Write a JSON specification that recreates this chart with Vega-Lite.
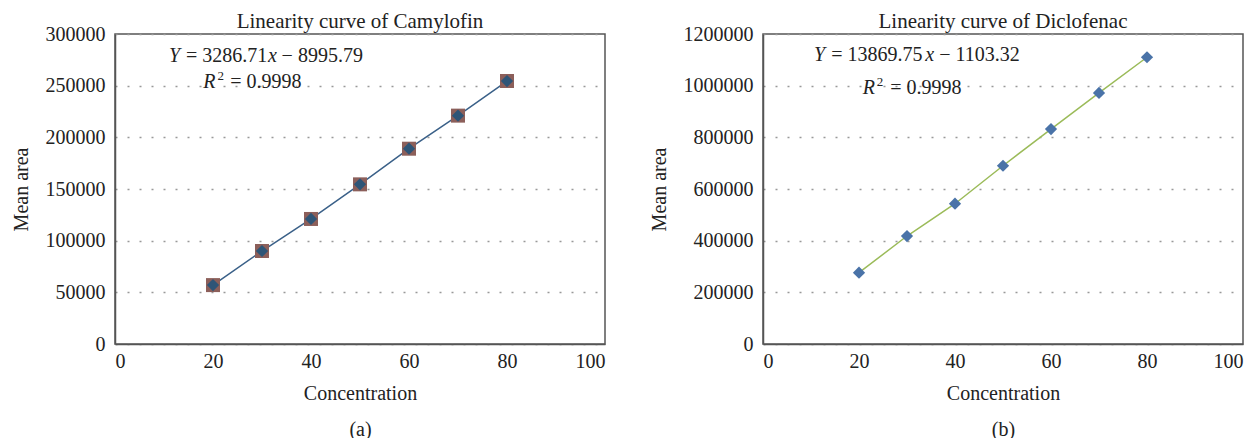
{
  "$schema": "https://vega.github.io/schema/vega-lite/v6.json",
  "background": "white",
  "padding": {"left": 10, "right": 5, "top": 10, "bottom": 0},
  "spacing": 42,
  "config": {
    "font": "Liberation Serif",
    "view": {"stroke": "#555", "strokeWidth": 1.5},
    "axis": {
      "labelFont": "Liberation Serif",
      "titleFont": "Liberation Serif",
      "labelFontSize": 20,
      "titleFontSize": 20,
      "titleFontWeight": "normal",
      "labelColor": "#222",
      "titleColor": "#222",
      "domainColor": "#555",
      "domainWidth": 1.5,
      "ticks": false,
      "gridColor": "#999",
      "gridDash": [2, 10],
      "gridWidth": 1.5
    },
    "title": {"font": "Liberation Serif", "fontSize": 21, "fontWeight": "normal", "color": "#222", "offset": -8},
    "text": {"font": "Liberation Serif", "fontSize": 20, "color": "#222", "align": "left", "baseline": "middle"}
  },
  "datasets": {
    "cam": [
      {"conc": 20, "area": 57000},
      {"conc": 30, "area": 90000},
      {"conc": 40, "area": 121000},
      {"conc": 50, "area": 154500},
      {"conc": 60, "area": 189000},
      {"conc": 70, "area": 221000},
      {"conc": 80, "area": 254500}
    ],
    "dic": [
      {"conc": 20, "area": 276000},
      {"conc": 30, "area": 418000},
      {"conc": 40, "area": 543000},
      {"conc": 50, "area": 690000},
      {"conc": 60, "area": 832000},
      {"conc": 70, "area": 972000},
      {"conc": 80, "area": 1110000}
    ],
    "camText": [
      {"conc": 11.0, "area": 279000, "label": "Y", "kind": "i"},
      {"conc": 14.5, "area": 279000, "label": "= 3286.71", "kind": "n"},
      {"conc": 31.2, "area": 279000, "label": "x", "kind": "i"},
      {"conc": 34.0, "area": 279000, "label": "− 8995.79", "kind": "n"},
      {"conc": 18.0, "area": 253500, "label": "R", "kind": "i"},
      {"conc": 20.9, "area": 259500, "label": "2", "kind": "s"},
      {"conc": 23.5, "area": 253500, "label": "= 0.9998", "kind": "n"}
    ],
    "dicText": [
      {"conc": 10.6, "area": 1118000, "label": "Y", "kind": "i"},
      {"conc": 14.2, "area": 1118000, "label": "= 13869.75", "kind": "n"},
      {"conc": 33.8, "area": 1118000, "label": "x", "kind": "i"},
      {"conc": 36.7, "area": 1118000, "label": "− 1103.32", "kind": "n"},
      {"conc": 20.8, "area": 991000, "label": "R", "kind": "i"},
      {"conc": 23.7, "area": 1016000, "label": "2", "kind": "s"},
      {"conc": 26.5, "area": 991000, "label": "= 0.9998", "kind": "n"}
    ]
  },
  "hconcat": [
    {
      "width": 490,
      "height": 310,
      "title": "Linearity curve of Camylofin",
      "layer": [
        {
          "data": {"name": "cam"},
          "mark": {"type": "line", "color": "#3a6088", "strokeWidth": 1.5},
          "encoding": {
            "x": {"field": "conc", "type": "quantitative", "scale": {"domain": [0, 100]},
                  "axis": {"values": [0, 20, 40, 60, 80, 100], "grid": false, "labelPadding": 7,
                           "title": ["Concentration", "(a)"], "titleLineHeight": 36, "titlePadding": 12}},
            "y": {"field": "area", "type": "quantitative", "scale": {"domain": [0, 300000]},
                  "axis": {"values": [0, 50000, 100000, 150000, 200000, 250000, 300000], "format": "d",
                           "labelPadding": 10, "title": "Mean area", "titlePadding": 14}}
          }
        },
        {
          "data": {"name": "cam"},
          "mark": {"type": "point", "shape": "square", "filled": true, "color": "#8c5f5a", "size": 196, "opacity": 1},
          "encoding": {
            "x": {"field": "conc", "type": "quantitative"},
            "y": {"field": "area", "type": "quantitative"}
          }
        },
        {
          "data": {"name": "cam"},
          "mark": {"type": "point", "shape": "diamond", "filled": true, "color": "#2e5577", "size": 150, "opacity": 1},
          "encoding": {
            "x": {"field": "conc", "type": "quantitative"},
            "y": {"field": "area", "type": "quantitative"}
          }
        },
        {
          "data": {"name": "camText"},
          "transform": [{"filter": "datum.kind == 'n'"}],
          "mark": {"type": "text"},
          "encoding": {
            "x": {"field": "conc", "type": "quantitative"},
            "y": {"field": "area", "type": "quantitative"},
            "text": {"field": "label"}
          }
        },
        {
          "data": {"name": "camText"},
          "transform": [{"filter": "datum.kind == 'i'"}],
          "mark": {"type": "text", "fontStyle": "italic"},
          "encoding": {
            "x": {"field": "conc", "type": "quantitative"},
            "y": {"field": "area", "type": "quantitative"},
            "text": {"field": "label"}
          }
        },
        {
          "data": {"name": "camText"},
          "transform": [{"filter": "datum.kind == 's'"}],
          "mark": {"type": "text", "fontSize": 13},
          "encoding": {
            "x": {"field": "conc", "type": "quantitative"},
            "y": {"field": "area", "type": "quantitative"},
            "text": {"field": "label"}
          }
        }
      ]
    },
    {
      "width": 480,
      "height": 310,
      "title": "Linearity curve of Diclofenac",
      "layer": [
        {
          "data": {"name": "dic"},
          "mark": {"type": "line", "color": "#9bbb59", "strokeWidth": 1.5},
          "encoding": {
            "x": {"field": "conc", "type": "quantitative", "scale": {"domain": [0, 100]},
                  "axis": {"values": [0, 20, 40, 60, 80, 100], "grid": false, "labelPadding": 7,
                           "title": ["Concentration", "(b)"], "titleLineHeight": 36, "titlePadding": 12}},
            "y": {"field": "area", "type": "quantitative", "scale": {"domain": [0, 1200000]},
                  "axis": {"values": [0, 200000, 400000, 600000, 800000, 1000000, 1200000], "format": "d",
                           "labelPadding": 10, "title": "Mean area", "titlePadding": 14}}
          }
        },
        {
          "data": {"name": "dic"},
          "mark": {"type": "point", "shape": "diamond", "filled": true, "color": "#4a73a8", "size": 150, "opacity": 1},
          "encoding": {
            "x": {"field": "conc", "type": "quantitative"},
            "y": {"field": "area", "type": "quantitative"}
          }
        },
        {
          "data": {"name": "dicText"},
          "transform": [{"filter": "datum.kind == 'n'"}],
          "mark": {"type": "text"},
          "encoding": {
            "x": {"field": "conc", "type": "quantitative"},
            "y": {"field": "area", "type": "quantitative"},
            "text": {"field": "label"}
          }
        },
        {
          "data": {"name": "dicText"},
          "transform": [{"filter": "datum.kind == 'i'"}],
          "mark": {"type": "text", "fontStyle": "italic"},
          "encoding": {
            "x": {"field": "conc", "type": "quantitative"},
            "y": {"field": "area", "type": "quantitative"},
            "text": {"field": "label"}
          }
        },
        {
          "data": {"name": "dicText"},
          "transform": [{"filter": "datum.kind == 's'"}],
          "mark": {"type": "text", "fontSize": 13},
          "encoding": {
            "x": {"field": "conc", "type": "quantitative"},
            "y": {"field": "area", "type": "quantitative"},
            "text": {"field": "label"}
          }
        }
      ]
    }
  ]
}
